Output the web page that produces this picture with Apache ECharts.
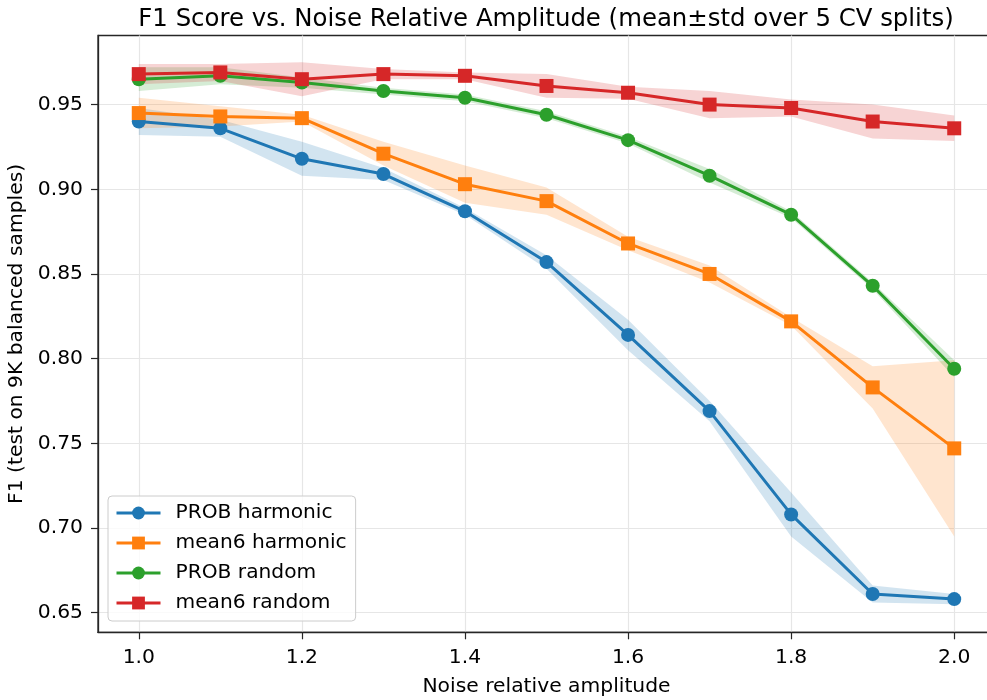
<!DOCTYPE html>
<html>
<head>
<meta charset="utf-8">
<script src="https://cdn.jsdelivr.net/npm/echarts@6/dist/echarts.min.js"></script>
<style>
html,body{margin:0;padding:0;background:#fff;}
#chart{width:987px;height:700px;}
</style>
</head>
<body>
<div id="chart"></div>
<script>
// ---- data ----
var noiseAmp = [1.0, 1.1, 1.2, 1.3, 1.4, 1.5, 1.6, 1.7, 1.8, 1.9, 2.0];
var seriesNames = ['PROB harmonic', 'mean6 harmonic', 'PROB random', 'mean6 random'];
var probHarmonicMean = [0.940, 0.936, 0.918, 0.909, 0.887, 0.857, 0.814, 0.769, 0.708, 0.661, 0.658];
var probHarmonicStd  = [0.008, 0.005, 0.010, 0.0035, 0.002, 0.004, 0.009, 0.006, 0.013, 0.005, 0.003];
var mean6HarmonicMean = [0.945, 0.943, 0.942, 0.921, 0.903, 0.893, 0.868, 0.850, 0.822, 0.783, 0.747];
var mean6HarmonicStd  = [0.009, 0.006, 0.002, 0.007, 0.011, 0.008, 0.004, 0.005, 0.0025, 0.0125, 0.052];
var probRandomMean = [0.965, 0.967, 0.963, 0.958, 0.954, 0.944, 0.929, 0.908, 0.885, 0.843, 0.794];
var probRandomStd  = [0.007, 0.005, 0.003, 0.002, 0.002, 0.002, 0.002, 0.004, 0.002, 0.002, 0.005];
var mean6RandomMean = [0.968, 0.969, 0.965, 0.968, 0.967, 0.961, 0.957, 0.950, 0.948, 0.940, 0.936];
var mean6RandomStd  = [0.006, 0.005, 0.010, 0.003, 0.002, 0.007, 0.0035, 0.008, 0.005, 0.010, 0.0075];
var xTickValues = [1.0, 1.2, 1.4, 1.6, 1.8, 2.0];
var yTickValues = [0.65, 0.70, 0.75, 0.80, 0.85, 0.90, 0.95];

// ---- styling ----
var colors = ['#1f77b4', '#ff7f0e', '#2ca02c', '#d62728'];
var bandColors = ['rgba(31,119,180,0.2)', 'rgba(255,127,14,0.2)', 'rgba(44,160,44,0.2)', 'rgba(214,39,40,0.2)'];
var symbols = ['circle', 'rect', 'circle', 'rect'];
var means = [probHarmonicMean, mean6HarmonicMean, probRandomMean, mean6RandomMean];
var stds = [probHarmonicStd, mean6HarmonicStd, probRandomStd, mean6RandomStd];
var FONT = 'DejaVu Sans';

function bandSeries(k) {
  var data = noiseAmp.map(function (x, i) {
    return [x, means[k][i] - stds[k][i], means[k][i] + stds[k][i]];
  });
  return {
    type: 'custom',
    name: seriesNames[k] + ' band',
    silent: true,
    z: 1,
    data: data,
    encode: { x: 0, y: [1, 2] },
    renderItem: function (params, api) {
      if (params.dataIndex !== 0) return null;
      var upper = [], lower = [];
      for (var i = 0; i < data.length; i++) {
        upper.push(api.coord([data[i][0], data[i][2]]));
        lower.push(api.coord([data[i][0], data[i][1]]));
      }
      var pts = upper.concat(lower.reverse());
      return { type: 'polygon', shape: { points: pts }, style: { fill: bandColors[k] } };
    }
  };
}

function lineSeries(k) {
  return {
    type: 'line',
    name: seriesNames[k],
    z: 3 + k,
    data: noiseAmp.map(function (x, i) { return [x, means[k][i]]; }),
    symbol: symbols[k],
    symbolSize: 14,
    showAllSymbol: true,
    color: colors[k],
    lineStyle: { width: 3, color: colors[k] },
    itemStyle: { color: colors[k] },
    emphasis: { disabled: true },
    animation: false
  };
}

var series = [];
for (var k = 0; k < 4; k++) series.push(bandSeries(k));
for (var k2 = 0; k2 < 4; k2++) series.push(lineSeries(k2));

var chart = echarts.init(document.getElementById('chart'), null, { renderer: 'canvas' });
chart.setOption({
  backgroundColor: '#ffffff',
  animation: false,
  textStyle: { fontFamily: FONT },
  title: {
    text: 'F1 Score vs. Noise Relative Amplitude (mean\u00b1std over 5 CV splits)',
    left: 541, textAlign: 'center', top: 3,
    textStyle: { fontFamily: FONT, fontWeight: 'normal', fontSize: 24.4, color: '#000' }
  },
  grid: {
    left: 98, top: 35.5, width: 897, height: 596.8,
    containLabel: false, outerBoundsMode: 'none',
    show: true, borderColor: '#262626', borderWidth: 1.3, backgroundColor: 'transparent'
  },
  legend: {
    orient: 'vertical',
    left: 108, top: 496,
    data: seriesNames,
    itemWidth: 44, itemHeight: 16,
    itemGap: 10,
    padding: [7, 9, 8, 7],
    backgroundColor: 'rgba(255,255,255,0.8)',
    borderColor: '#cccccc', borderWidth: 1, borderRadius: 4,
    lineStyle: { width: 3 },
    textStyle: { fontFamily: FONT, fontSize: 20.2, color: '#000', lineHeight: 20, padding: [0, 0, 0, 10] },
    selectedMode: false
  },
  xAxis: {
    type: 'value', min: 0.95, max: 2.05,
    minInterval: 0.2, maxInterval: 0.2, interval: 0.2,
    name: 'Noise relative amplitude', nameLocation: 'middle', nameGap: 44,
    nameTextStyle: { fontFamily: FONT, fontSize: 20.3, color: '#000' },
    axisLine: { show: true, onZero: false, lineStyle: { color: '#262626', width: 1.3 } },
    axisTick: { show: true, length: 7, lineStyle: { color: '#262626', width: 1.2 },
      customValues: xTickValues },
    axisLabel: { fontFamily: FONT, fontSize: 20.3, color: '#000', margin: 15,
      customValues: xTickValues,
      formatter: function (v) { return v.toFixed(1); } },
    splitLine: { show: true, lineStyle: { color: '#e6e6e6', width: 1.2 } }
  },
  yAxis: {
    type: 'value', min: 0.6384, max: 0.9908,
    name: 'F1 (test on 9K balanced samples)', nameLocation: 'middle', nameGap: 69,
    nameTextStyle: { fontFamily: FONT, fontSize: 20.3, color: '#000' },
    axisLine: { show: true, onZero: false, lineStyle: { color: '#262626', width: 1.3 } },
    axisTick: { show: true, length: 7, lineStyle: { color: '#262626', width: 1.2 },
      customValues: yTickValues },
    axisLabel: { fontFamily: FONT, fontSize: 20.3, color: '#000', margin: 15,
      customValues: yTickValues,
      formatter: function (v) { return v.toFixed(2); } },
    splitLine: { show: true, lineStyle: { color: '#e6e6e6', width: 1.2 } }
  },
  series: series
});
</script>
</body>
</html>
